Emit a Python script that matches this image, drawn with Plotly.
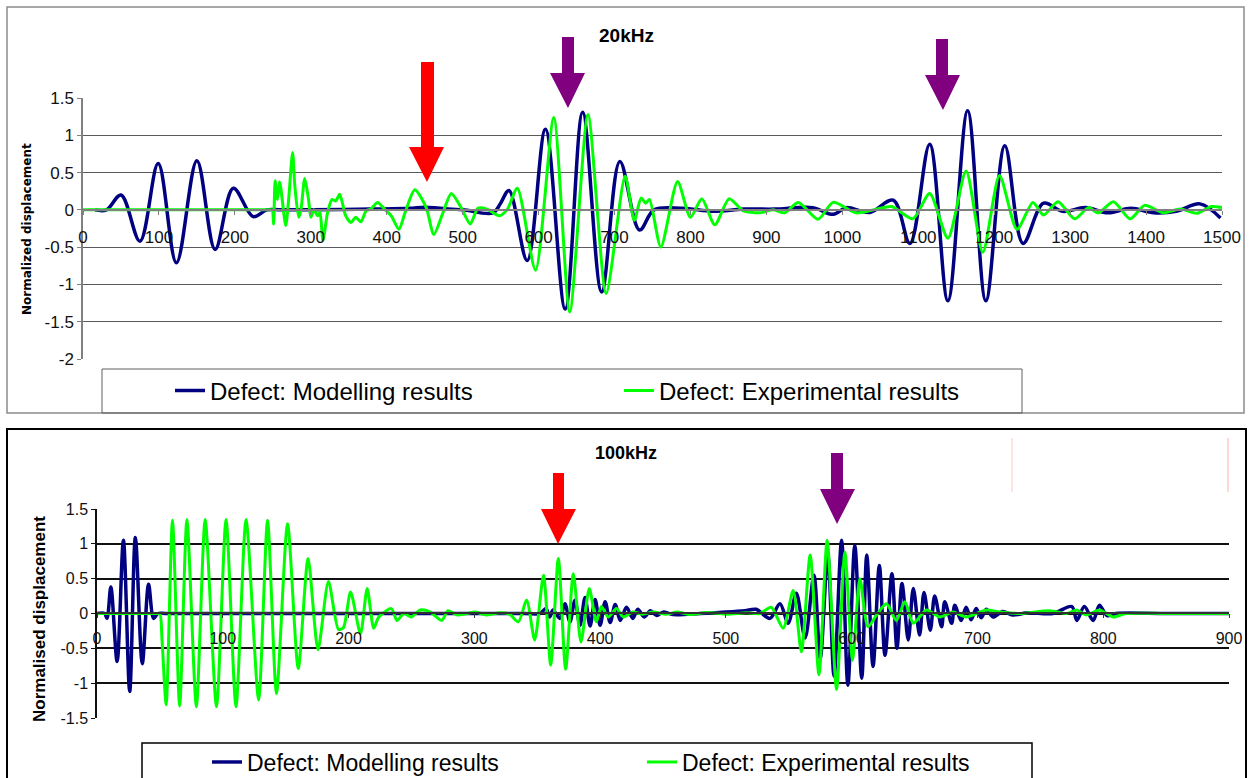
import plotly.graph_objects as go

W, H = 1253, 778

# ---------------- 20 kHz panel ----------------
m20_x = [16, 31, 50, 75, 99, 123, 150, 174, 198, 224,
         242, 260, 300, 380, 430, 450, 470, 500, 540, 550, 561,
         585, 609, 635, 658, 683, 707, 733, 752, 790, 830,
         870, 910, 961, 988, 1005, 1036, 1067, 1089, 1115, 1139,
         1165, 1189, 1214, 1238, 1265, 1290, 1320, 1350, 1380, 1410,
         1440, 1471, 1498]
m20_y = [0, 0.0, 0.2, -0.42, 0.62, -0.71, 0.66, -0.53, 0.29, -0.09,
         0, 0, 0, 0.01, 0.02, 0.035, 0.02, 0.0, -0.04, 0.09, 0.26,
         -0.68, 1.08, -1.33, 1.31, -1.10, 0.65, -0.27, 0, 0.02, -0.02,
         0.01, 0.01, 0.03, -0.06, 0.03, -0.035, 0.13, -0.45, 0.88, -1.22,
         1.33, -1.22, 0.86, -0.45, 0.09, -0.02, 0.03, -0.04, 0.02, -0.04,
         -0.02, 0.08, -0.11]

e20_x = [0, 60, 120, 180, 230, 244, 249, 251, 253, 256, 259, 267, 271, 276, 279,
         284, 287, 292, 297, 300, 304, 309, 312, 316, 322,
         328, 333, 338, 346, 353, 359, 366, 373, 379, 388,
         397, 406, 416, 425, 437, 452, 462, 474, 485, 498,
         510, 520, 532, 548, 559, 572, 596, 620, 641, 665,
         689, 714, 726, 735, 741, 746, 761, 783, 800, 815,
         832, 851, 869, 891, 909, 924, 942, 968, 988, 1018,
         1045, 1065, 1093, 1115, 1139, 1163, 1185, 1207, 1230, 1251,
         1265, 1284, 1306, 1324, 1337, 1357, 1379, 1398, 1423, 1445,
         1467, 1486, 1500]
e20_y = [0, 0, 0, 0, 0, 0, 0, -0.19, 0.39, 0.14, 0.375, -0.21, 0.165, 0.77, 0.32,
         -0.10, 0.0, 0.42, 0.14, -0.1, 0, -0.08, -0.03, -0.41, -0.04,
         0.14, 0.12, 0.21, -0.08, -0.17, -0.10, -0.16, -0.01, 0.01, 0.1,
         0.01, -0.08, -0.26, -0.01, 0.27, 0.03, -0.33, -0.04, 0.22, 0.03,
         -0.19, 0.02, 0.01, -0.08, 0.01, 0.29, -0.81, 1.24, -1.37, 1.28,
         -1.12, 0.45, -0.14, 0.16, 0.09, 0.14, -0.5, 0.38, -0.1, 0.15,
         -0.2, 0.15, -0.01, -0.04, 0, -0.04, 0.1, -0.125, 0.1, -0.04,
         0.01, 0.045, -0.12, 0.22, -0.38, 0.52, -0.57, 0.46, -0.26, 0.1,
         -0.07, 0.11, -0.12, 0.03, -0.04, 0.11, -0.12, 0.06, -0.04, 0.01,
         -0.045, 0.045, 0.03]

x20_ticks = list(range(0, 1501, 100))
x20_labels = [str(v) for v in x20_ticks]
y20_ticks = [1.5, 1, 0.5, 0, -0.5, -1, -1.5, -2]
y20_labels = ["1.5", "1", "0.5", "0", "-0.5", "-1", "-1.5", "-2"]

# ---------------- 100 kHz panel ----------------
m100_x = [0, 6, 8, 11, 16, 21, 26, 30.5, 36, 41, 45, 48.5, 55, 100, 150, 250, 340, 352, 357, 360, 362.5, 368, 372,
          376, 380, 384, 388, 392, 396, 400, 404, 408, 412, 416, 421, 426, 430, 435, 440, 445, 450, 458, 480,
          500, 515, 524, 535, 543, 549.5, 556, 563, 570, 575, 581, 586, 592, 597, 602.5, 608, 612, 617, 622, 626.5,
          632, 636, 640, 645, 649, 654, 657.5, 662.5, 666, 671.5, 674, 679.5, 682, 687, 691, 695, 699, 703, 707, 712.5,
          720, 728, 740, 760, 775, 779, 785, 792, 797, 803, 810, 850, 900]
m100_y = [0, 0, -0.07, 0.38, -0.69, 1.05, -1.12, 1.09, -0.72, 0.42, -0.07, 0, 0, 0, 0, 0, 0, 0, 0.07, -0.05, 0.05, -0.07, 0.14,
          -0.12, 0.19, -0.17, 0.23, -0.18, 0.2, -0.17, 0.17, -0.13, 0.13, -0.1, 0.09, -0.07, 0.06, -0.05, 0.04, -0.03, 0.02, -0.015, 0,
          0.02, 0.04, 0.06, -0.07, 0.14, -0.14, 0.29, -0.35, 0.55, -0.65, 0.85, -0.9, 1.05, -1.03, 0.98, -0.93, 0.84, -0.76, 0.69, -0.6,
          0.57, -0.5, 0.43, -0.38, 0.36, -0.31, 0.3, -0.24, 0.25, -0.19, 0.17, -0.14, 0.12, -0.1, 0.09, -0.09, 0.07, -0.06, 0.06, -0.05,
          0.03, -0.02, 0.01, 0, 0.1, -0.1, 0.1, -0.1, 0.12, -0.03, 0, 0, 0]

e100_x = [0, 20, 40, 48, 50, 51.7, 55, 60, 65.7, 71.5, 79, 86, 95, 102.6, 110.5, 118.5, 128.5, 135.6, 142.7, 151.5, 160, 167.8, 175.7,
          184, 192, 196, 201.6, 209.5, 214.8, 220, 224, 234, 238.5, 244, 250, 257, 265, 274, 279, 286, 294, 300.5, 310,
          320, 328, 335, 341.6, 348, 355, 360.7, 366.8, 372.6, 378.7, 384.8, 391.4, 397, 401, 406.5, 413, 418.5, 426, 434, 442,
          453, 461, 471.5, 485, 500.6, 516.5, 527, 536, 545.5, 553.5, 560, 567, 574, 580.5, 588, 594.6, 600.7, 606.5, 613, 619.8,
          627.7, 635.6, 642.3, 649, 659.5, 670, 680.7, 691, 707, 718, 733.7, 757.5, 770.8, 778.8, 786.7, 797, 808, 818, 850, 900]
e100_y = [0, 0, 0, 0, 0, -0.38, -1.31, 1.34, -1.33, 1.35, -1.34, 1.35, -1.34, 1.35, -1.34, 1.35, -1.24, 1.34, -1.15, 1.29, -0.79, 0.79, -0.52,
          0.46, -0.23, -0.2, 0.31, -0.29, 0.36, -0.21, -0.05, 0.07, -0.1, 0, -0.05, 0.05, 0.02, -0.1, 0.04, -0.02, 0, 0.02, -0.02,
          0.01, -0.01, -0.12, 0.19, -0.38, 0.55, -0.74, 0.79, -0.8, 0.57, -0.41, 0.36, -0.12, 0.1, -0.05, 0.07, -0.05, 0.02, -0.01, 0.02,
          -0.01, 0.02, -0.015, 0.015, -0.01, 0.01, 0, 0.09, -0.21, 0.33, -0.55, 0.84, -0.88, 1.05, -1.09, 0.88, -0.67, 0.5, -0.19, -0.02,
          0.14, -0.1, 0.17, -0.14, 0.05, -0.05, 0.02, -0.05, 0.05, 0.02, 0, 0.04, 0, 0.05, -0.02, 0.05, -0.05, 0, 0, 0]

x100_ticks = list(range(0, 901, 100))
x100_labels = [str(v) for v in x100_ticks]
y100_ticks = [1.5, 1, 0.5, 0, -0.5, -1, -1.5]
y100_labels = ["1.5", "1", "0.5", "0", "-0.5", "-1", "-1.5"]

series_names = ["Defect: Modelling results", "Defect: Experimental results"]
NAVY = "#000080"
GREEN = "#00FF00"
FONT = "Arial, Liberation Sans, sans-serif"


def fx(x):
    return x / W


def fy(y):
    return 1 - y / H


fig = go.Figure()
fig.add_trace(go.Scatter(x=m20_x, y=m20_y, name=series_names[0], mode="lines",
                         line=dict(color=NAVY, width=3.5, shape="spline", smoothing=1.0),
                         xaxis="x", yaxis="y", legend="legend"))
fig.add_trace(go.Scatter(x=e20_x, y=e20_y, name=series_names[1], mode="lines",
                         line=dict(color=GREEN, width=3, shape="spline", smoothing=0.7),
                         xaxis="x", yaxis="y", legend="legend"))
fig.add_trace(go.Scatter(x=m100_x, y=m100_y, name=series_names[0], mode="lines",
                         line=dict(color=NAVY, width=3.5, shape="spline", smoothing=0.9),
                         xaxis="x2", yaxis="y2", legend="legend2"))
fig.add_trace(go.Scatter(x=e100_x, y=e100_y, name=series_names[1], mode="lines",
                         line=dict(color=GREEN, width=3, shape="spline", smoothing=0.7),
                         xaxis="x2", yaxis="y2", legend="legend2"))


def arrow(sx0, sx1, top, head_y, hx0, hx1, tip_x, tip_y, color):
    pts = [(sx0, top), (sx1, top), (sx1, head_y), (hx1, head_y), (tip_x, tip_y),
           (hx0, head_y), (sx0, head_y)]
    path = "M " + " L ".join(f"{fx(a):.5f},{fy(b):.5f}" for a, b in pts) + " Z"
    return dict(type="path", xref="paper", yref="paper", path=path,
                fillcolor=color, line=dict(width=0), layer="above")


def rect(x0, y0, x1, y1, color, width):
    return dict(type="rect", xref="paper", yref="paper", x0=fx(x0), x1=fx(x1),
                y0=fy(y1), y1=fy(y0), line=dict(color=color, width=width),
                fillcolor="rgba(0,0,0,0)", layer="above")


def vline(x, y0, y1, color):
    return dict(type="line", xref="paper", yref="paper", x0=fx(x), x1=fx(x),
                y0=fy(y1), y1=fy(y0), line=dict(color=color, width=1))


shapes = [
    rect(7, 7, 1244, 413, "#8c8c8c", 1.5),
    rect(102, 369, 1022, 413, "#606060", 1),
    rect(7, 429, 1246, 790, "#000000", 2),
    rect(142, 743, 1032, 795, "#000000", 1.5),
    arrow(421, 434, 62, 147, 409, 444, 427, 182, "#FF0000"),
    arrow(562, 574, 37, 73, 550, 585, 568, 108, "#800080"),
    arrow(936, 948, 39, 75, 925, 960, 943, 110, "#800080"),
    arrow(553, 564, 473, 509, 541, 576, 558, 544, "#FF0000"),
    arrow(831, 843, 453, 489, 820, 855, 837, 524, "#800080"),
    vline(1012, 438, 492, "#ffc8c8"),
    vline(1228, 438, 492, "#ffb0b0"),
]


def label(text, x, y, size, family=FONT, angle=0):
    return dict(text=text, x=fx(x), y=fy(y), xref="paper", yref="paper",
                xanchor="center", yanchor="middle", showarrow=False, textangle=angle,
                font=dict(family=family, size=size, color="#000"))


annotations = [
    label("<b>20kHz</b>", 626, 35, 19),
    label("<b>100kHz</b>", 626, 453, 18),
    label("<b>Normalized displacement</b>", 27, 229, 12, family="DejaVu Sans", angle=-90),
    label("<b>Normalised displacement</b>", 39, 619, 17, angle=-90),
]

fig.update_layout(
    width=W, height=H,
    margin=dict(l=0, r=0, t=0, b=0, autoexpand=False),
    paper_bgcolor="white", plot_bgcolor="white",
    font=dict(family=FONT, color="#000"),
    shapes=shapes,
    annotations=annotations,
    xaxis=dict(domain=[fx(83), fx(1222)], anchor="free", position=fy(210), automargin=False,
               range=[0, 1500], tickvals=x20_ticks, ticktext=x20_labels,
               showgrid=False, zeroline=False, showline=True, linecolor="#808080", linewidth=1.5,
               ticks="outside", ticklen=4, tickcolor="#808080",
               tickfont=dict(family=FONT, size=17, color="#111"), ticklabelstandoff=8),
    yaxis=dict(domain=[fy(359), fy(98)], anchor="x", range=[-2, 1.5], automargin=False,
               tickvals=y20_ticks, ticktext=y20_labels,
               showgrid=True, gridcolor="#5a5a5a", gridwidth=1, zeroline=False,
               showline=True, linecolor="#808080", linewidth=1.5,
               ticks="outside", ticklen=4, tickcolor="#808080",
               tickfont=dict(family=FONT, size=17, color="#111")),
    xaxis2=dict(domain=[fx(97), fx(1229)], anchor="free", position=fy(613), automargin=False,
                range=[0, 900], tickvals=x100_ticks, ticktext=x100_labels,
                showgrid=False, zeroline=False, showline=True, linecolor="#333", linewidth=1.5,
                ticks="outside", ticklen=4, tickcolor="#333",
                tickfont=dict(family=FONT, size=16, color="#111"), ticklabelstandoff=7),
    yaxis2=dict(domain=[fy(718), fy(509)], anchor="x2", range=[-1.5, 1.5], automargin=False,
                tickvals=y100_ticks, ticktext=y100_labels,
                showgrid=True, gridcolor="#111", gridwidth=1.5, zeroline=False,
                showline=True, linecolor="#111", linewidth=1.5,
                ticks="outside", ticklen=4, tickcolor="#111",
                tickfont=dict(family=FONT, size=16, color="#111")),
    legend=dict(orientation="h", x=fx(170), xanchor="left", y=fy(391), yanchor="middle",
                xref="container", yref="container",
                entrywidth=404, entrywidthmode="pixels", bgcolor="rgba(0,0,0,0)",
                font=dict(family=FONT, size=24, color="#000")),
    legend2=dict(orientation="h", x=fx(207), xanchor="left", y=fy(762), yanchor="middle",
                 xref="container", yref="container",
                 entrywidth=390, entrywidthmode="pixels", bgcolor="rgba(0,0,0,0)",
                 font=dict(family=FONT, size=23, color="#000")),
)

fig.write_html("out.html")
